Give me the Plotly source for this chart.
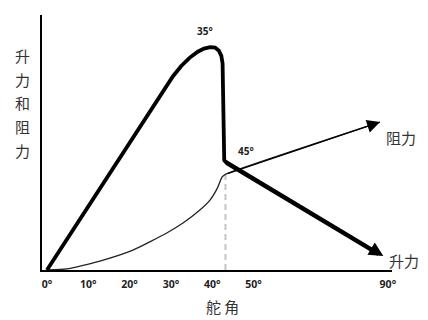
import plotly.graph_objects as go

# ---- data (schematic; x in degrees of rudder angle, y in arbitrary units) ----
lift_x = [0, 30.5, 32.5, 34.5, 36.5, 38, 39.5, 40.7, 41.6, 42.2, 42.5, 42.7, 42.9, 43.6, 81.4]
lift_y = [0, 76.0, 80.0, 83.2, 85.6, 86.8, 87.4, 87.2, 86.0, 84.0, 81.0, 60, 43, 41.8, 5.5]

drag_x = [0, 4.8, 12.8, 20.8, 29, 33, 37, 39.5, 41.2, 42.4, 43.3, 80.6]
drag_y = [0, 0.4, 3.5, 7.8, 14.5, 18.5, 23.5, 27.5, 32, 36.5, 37.6, 58]

stall_x = 43.2
stall_y = 37.4

tick_vals = [0, 10, 20, 30, 40, 50, 82.5]
tick_text = ["0°", "10°", "20°", "30°", "40°", "50°", "90°"]

y_label_chars = ["升", "力", "和", "阻", "力"]
x_title = "舵 角"
peak_label = "35°"
kink_label = "45°"
lift_name = "升力"
drag_name = "阻力"

X0, X1 = -1.2, 83.5
Y0, Y1 = 0, 100


def px(d):
    return (d - X0) / (X1 - X0)


def py(v):
    return (v - Y0) / (Y1 - Y0)


fig = go.Figure()

fig.add_trace(go.Scatter(x=[stall_x, stall_x], y=[0, stall_y], mode="lines",
                         line=dict(color="#c4c4c4", width=2, dash="6px,4px"),
                         hoverinfo="skip"))
fig.add_trace(go.Scatter(x=drag_x, y=drag_y, mode="lines",
                         line=dict(color="#222", width=1.3, shape="spline", smoothing=0.5),
                         hoverinfo="skip"))
fig.add_trace(go.Scatter(x=lift_x[:-1] + [lift_x[-1] - 1.2], y=lift_y[:-1] + [lift_y[-1] + 0.75],
                         mode="lines",
                         line=dict(color="#000", width=3.8),
                         hoverinfo="skip"))

ann = []
# arrow heads
ann.append(dict(x=lift_x[-1], y=lift_y[-1], ax=lift_x[-3], ay=lift_y[-3],
                xref="x", yref="y", axref="x", ayref="y", text="", showarrow=True,
                arrowhead=2, arrowsize=0.95, arrowwidth=3, arrowcolor="#000", standoff=0))
ann.append(dict(x=drag_x[-1], y=drag_y[-1], ax=drag_x[-2], ay=drag_y[-2],
                xref="x", yref="y", axref="x", ayref="y", text="", showarrow=True,
                arrowhead=2, arrowsize=2.0, arrowwidth=1.3, arrowcolor="#000", standoff=0))

# labels
bold10 = dict(family="Open Sans", size=10, color="#222", weight="bold")
cjk = dict(family="Noto Sans CJK SC", size=15, color="#333")
ann.append(dict(x=38.3, y=93.7, xref="x", yref="y", text=peak_label, showarrow=False,
                xanchor="center", yanchor="middle", font=bold10))
ann.append(dict(x=48.2, y=46.5, xref="x", yref="y", text=kink_label, showarrow=False,
                xanchor="center", yanchor="middle", font=bold10))
ann.append(dict(x=px(85.6), y=py(51.8), xref="paper", yref="paper", text=drag_name,
                showarrow=False, xanchor="center", yanchor="middle", font=cjk))
ann.append(dict(x=px(86.3), y=py(3.9), xref="paper", yref="paper", text=lift_name,
                showarrow=False, xanchor="center", yanchor="middle", font=cjk))
ann.append(dict(x=px(42.6), y=py(-14.5), xref="paper", yref="paper", text=x_title,
                showarrow=False, xanchor="center", yanchor="middle", font=cjk))
for i, ch in enumerate(y_label_chars):
    ann.append(dict(x=px(-6.0), y=py(84.3 - i * 9.4), xref="paper", yref="paper", text=ch,
                    showarrow=False, xanchor="center", yanchor="middle", font=cjk))

fig.update_layout(
    width=428, height=320,
    margin=dict(l=42, r=36, t=15, b=50),
    paper_bgcolor="white", plot_bgcolor="white",
    showlegend=False,
    annotations=ann,
    xaxis=dict(range=[X0, X1], showgrid=False, zeroline=False, showline=True,
               linecolor="#000", linewidth=2, tickmode="array",
               tickvals=tick_vals, ticktext=tick_text, ticks="outside", ticklen=3,
               tickcolor="rgba(0,0,0,0)",
               tickfont=dict(family="Open Sans", size=10.5, color="#222", weight="bold")),
    yaxis=dict(range=[Y0, Y1], showgrid=False, zeroline=False, showline=True,
               linecolor="#000", linewidth=2, showticklabels=False, ticks=""),
)

fig.write_html("out.html")
